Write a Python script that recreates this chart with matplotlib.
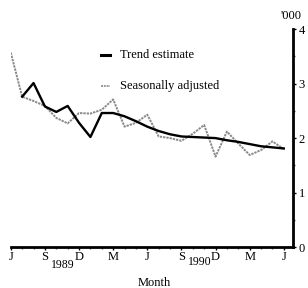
import numpy as np
import matplotlib.pyplot as plt

# monthly values, '000, June 1989 .. June 1991
months = np.arange(25)
trend = [np.nan, 2.76, 3.01, 2.58, 2.48, 2.59, 2.28, 2.02, 2.46, 2.46,
         2.40, 2.31, 2.21, 2.13, 2.07, 2.03, 2.02, 2.01, 2.00, 1.96,
         1.93, 1.89, 1.85, 1.83, 1.81]
seas_adj = [3.57, 2.76, 2.68, 2.59, 2.37, 2.27, 2.46, 2.45, 2.52, 2.71,
            2.21, 2.28, 2.43, 2.03, 2.00, 1.95, 2.08, 2.24, 1.66, 2.12,
            1.90, 1.69, 1.78, 1.94, 1.80]
tick_labels = ["J", "S", "D", "M", "J", "S", "D", "M", "J"]
years = ["1989", "1990"]

plt.rcParams['font.family'] = ['Liberation Serif', 'DejaVu Serif']

fig = plt.figure(figsize=(3.08, 2.88), dpi=100)
ax = fig.add_axes([0.035, 0.142, 0.916, 0.757])

ax.plot(months, seas_adj, color='#8a8a8a', lw=1.4, ls=(0, (1.2, 0.5)))
ax.plot(months, trend, color='black', lw=1.7)

ax.set_xlim(0, 24.8)
ax.set_ylim(0, 4)

for s in ['left', 'top']:
    ax.spines[s].set_visible(False)
ax.spines['right'].set_linewidth(2)
ax.spines['bottom'].set_linewidth(2)

ax.yaxis.tick_right()
ax.set_yticks([0, 1, 2, 3, 4])
ax.set_yticks([0.5, 1.5, 2.5, 3.5], minor=True)
ax.set_xticks(np.arange(0, 25, 3))
ax.set_xticklabels(tick_labels)
ax.set_xticks(np.arange(0, 25, 1), minor=True)
ax.tick_params(axis='both', which='major', labelsize=9, length=2, width=1, pad=2)
ax.tick_params(axis='both', which='minor', length=1.5, width=1, color='#555555')
ax.tick_params(axis='x', which='major', pad=0.5)

# year labels, axis title, unit
ax.text(4.6, -0.32, years[0], ha='center', va='center', fontsize=8.5)
ax.text(16.6, -0.27, years[1], ha='center', va='center', fontsize=8.5)
ax.text(12.6, -0.66, "Month", ha='center', va='center', fontsize=9)
ax.text(24.6, 4.24, "'000", ha='center', va='center', fontsize=9)

# legend drawn by hand
ax.plot([7.9, 8.7], [3.53, 3.53], color='black', lw=2.2)
ax.text(9.6, 3.53, "Trend estimate", va='center', fontsize=9)
ax.plot([7.9, 8.7], [2.96, 2.96], color='#8a8a8a', lw=1.2, ls=(0, (1.2, 0.5)))
ax.text(9.6, 2.96, "Seasonally adjusted", va='center', fontsize=9)

fig.savefig("out.png", dpi=100)
